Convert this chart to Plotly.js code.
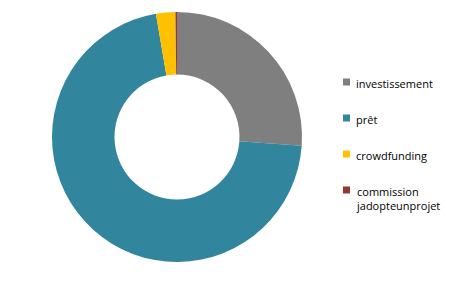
<!DOCTYPE html>
<html>
<head>
<meta charset="utf-8">
<script src="https://cdn.plot.ly/plotly-3.0.1.min.js"></script>
<style>html,body{margin:0;padding:0;background:#fff;}#chart{width:475px;height:282px;}</style>
</head>
<body>
<div id="chart"></div>
<script>
const labels = ["investissement", "prêt", "crowdfunding", "commission jadopteunprojet"];
const legendText = ["investissement", "prêt", "crowdfunding", "commission<br>jadopteunprojet"];
const values = [26.1, 71.2, 2.5, 0.2];
const colors = ["#7F7F7F", "#31859C", "#FFC000", "#953735"];

const W = 475, H = 282;
const legendX = 343, legendY0 = 82, legendStep = 36, sq = 7;

const shapes = [], annotations = [];
labels.forEach((lab, i) => {
  const cy = legendY0 + i * legendStep;
  shapes.push({
    type: "rect", xref: "paper", yref: "paper",
    x0: legendX / W, x1: (legendX + sq) / W,
    y0: 1 - (cy + sq / 2) / H, y1: 1 - (cy - sq / 2) / H,
    fillcolor: colors[i], line: {width: 0}
  });
  annotations.push({
    xref: "paper", yref: "paper",
    x: (legendX + sq + 4) / W, y: 1 - (cy - 8) / H,
    xanchor: "left", yanchor: "top", align: "left",
    text: legendText[i], showarrow: false,
    font: {family: "Open Sans, sans-serif", size: 11, color: "#000"}
  });
});

const data = [{
  type: "pie",
  labels: labels,
  values: values,
  hole: 0.5,
  sort: false,
  direction: "clockwise",
  rotation: 0,
  marker: {colors: colors, line: {width: 0}},
  textinfo: "none",
  showlegend: false,
  domain: {x: [(177 - 125) / W, (177 + 125) / W], y: [(H - 262) / H, (H - 12) / H]}
}];

const layout = {
  width: W, height: H,
  margin: {l: 0, r: 0, t: 0, b: 0},
  paper_bgcolor: "#fff",
  showlegend: false,
  shapes: shapes,
  annotations: annotations
};

Plotly.newPlot("chart", data, layout, {displayModeBar: false, staticPlot: true});
</script>
</body>
</html>
